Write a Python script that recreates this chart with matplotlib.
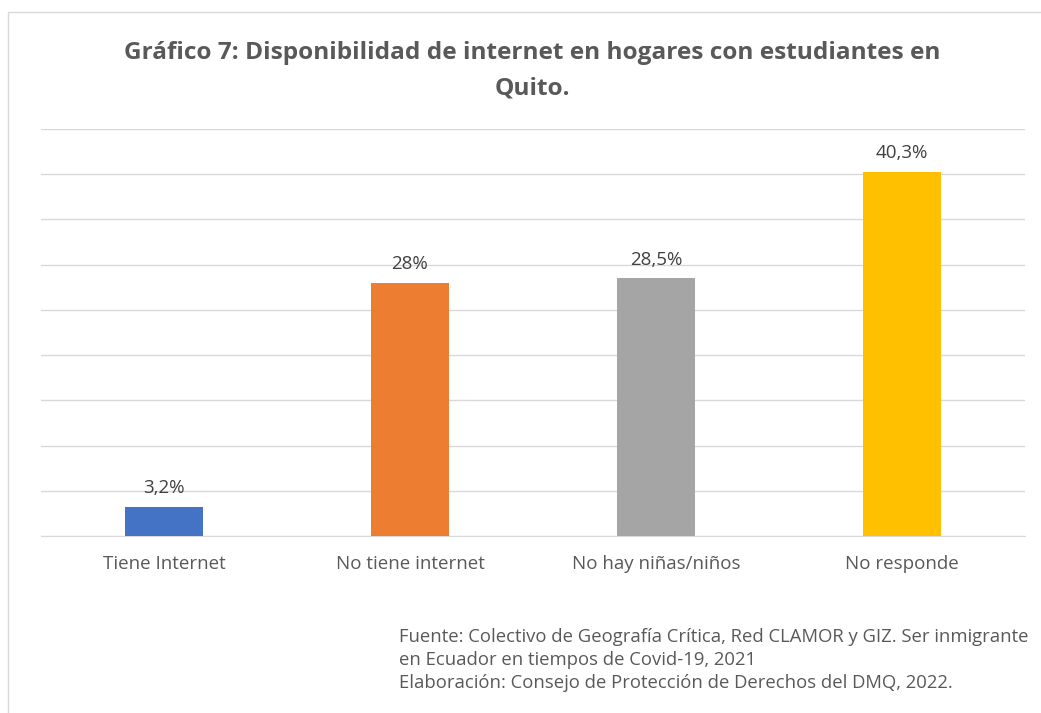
import matplotlib.pyplot as plt
from matplotlib.patches import Rectangle

categorias = ["Tiene Internet", "No tiene internet", "No hay niñas/niños", "No responde"]
valores = [3.2, 28.0, 28.5, 40.3]
etiquetas = ["3,2%", "28%", "28,5%", "40,3%"]
colores = ["#4472C4", "#ED7D31", "#A5A5A5", "#FFC000"]

titulo = "Gráfico 7: Disponibilidad de internet en hogares con estudiantes en\nQuito."
fuente = ("Fuente: Colectivo de Geografía Crítica, Red CLAMOR y GIZ. Ser inmigrante\n"
          "en Ecuador en tiempos de Covid-19, 2021\n"
          "Elaboración: Consejo de Protección de Derechos del DMQ, 2022.")

plt.rcParams["font.family"] = ["Open Sans", "DejaVu Sans"]

W, H = 1041, 713
fig = plt.figure(figsize=(W / 100, H / 100), dpi=100)

# Chart frame
fig.patches.append(Rectangle((8 / W, -0.01), 1.1, (H - 12) / H + 0.01,
                             transform=fig.transFigure, fill=False,
                             edgecolor="#D9D9D9", linewidth=1))

ax = fig.add_axes([41 / W, (H - 536) / H, 984 / W, (536 - 129) / H])
x = range(len(categorias))
ax.bar(x, valores, width=0.317, color=colores, zorder=3)
ax.set_xlim(-0.5, 3.5)
ax.set_ylim(0, 45)
ax.set_yticks(range(0, 46, 5))
ax.yaxis.grid(True, color="#D9D9D9", linewidth=1, zorder=0)
ax.tick_params(axis="y", left=False, labelleft=False)
ax.tick_params(axis="x", length=0, pad=14, labelsize=13.5, labelcolor="#595959")
ax.set_xticks(list(x))
ax.set_xticklabels(categorias)
for s in ["top", "left", "right"]:
    ax.spines[s].set_visible(False)
ax.spines["bottom"].set_color("#D9D9D9")

for i, v in enumerate(valores):
    ax.annotate(etiquetas[i], (i, v), xytext=(0, 7), textcoords="offset points",
                ha="center", va="bottom", fontsize=13.5, color="#404040")

fig.text(532 / W, 1 - 71 / H, titulo, ha="center", va="center", fontsize=17.6,
         fontweight="bold", color="#595959", linespacing=1.65)

fig.text(399 / W, 1 - 660 / H, fuente, ha="left", va="center", fontsize=13.3,
         color="#595959", linespacing=1.35)

fig.savefig("out.png", dpi=100)
